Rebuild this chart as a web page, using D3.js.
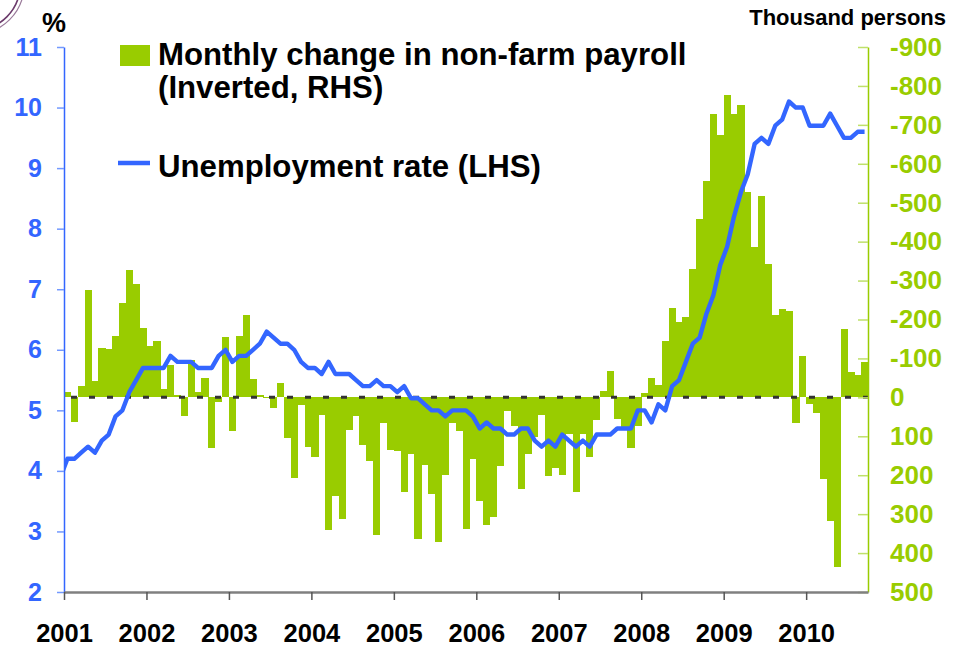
<!DOCTYPE html>
<html><head><meta charset="utf-8">
<script src="https://cdn.jsdelivr.net/npm/d3@7"></script>
<style>
body{margin:0;background:#fff}
svg{display:block}
text{font-family:"Liberation Sans",Arial,sans-serif;font-weight:bold}
</style>
</head><body>
<svg id="c" width="953" height="653"></svg>
<script>
// ---- data ----
const years = ["2001","2002","2003","2004","2005","2006","2007","2008","2009","2010"];
// Monthly change in non-farm payroll (thousand persons), Jan 2001 - Sep 2010
const payroll2001 = [-13, 63, -28, -277, -41, -128, -123, -157, -242, -326, -290, -177];
const payroll2002 = [-131, -146, -21, -82, -5, 48, -95, -13, -51, 130, 12, -154];
const payroll2003 = [87, -157, -211, -47, -5, 2, 27, -38, 104, 207, 20, 128];
const payroll2004 = [153, 46, 342, 253, 313, 84, 49, 122, 164, 354, 67, 135];
const payroll2005 = [138, 243, 146, 363, 174, 248, 372, 200, 67, 87, 337, 158];
const payroll2006 = [266, 328, 307, 176, 36, 74, 235, 146, 102, 45, 202, 181];
const payroll2007 = [200, 95, 243, 95, 153, 58, -17, -67, 56, 79, 130, 73];
const payroll2008 = [-11, -49, -32, -146, -229, -193, -206, -331, -457, -555, -727, -674];
const payroll2009 = [-776, -727, -752, -527, -385, -516, -342, -211, -226, -221, 66, -105];
const payroll2010 = [16, 40, 210, 318, 436, -175, -65, -57, -92];
// Unemployment rate (%), Dec 2000 lead-in then Jan 2001 - Sep 2010
const unempDec2000 = 3.9;
const unemp2001 = [4.2, 4.2, 4.3, 4.4, 4.3, 4.5, 4.6, 4.9, 5.0, 5.3, 5.5, 5.7];
const unemp2002 = [5.7, 5.7, 5.7, 5.9, 5.8, 5.8, 5.8, 5.7, 5.7, 5.7, 5.9, 6.0];
const unemp2003 = [5.8, 5.9, 5.9, 6.0, 6.1, 6.3, 6.2, 6.1, 6.1, 6.0, 5.8, 5.7];
const unemp2004 = [5.7, 5.6, 5.8, 5.6, 5.6, 5.6, 5.5, 5.4, 5.4, 5.5, 5.4, 5.4];
const unemp2005 = [5.3, 5.4, 5.2, 5.2, 5.1, 5.0, 5.0, 4.9, 5.0, 5.0, 5.0, 4.9];
const unemp2006 = [4.7, 4.8, 4.7, 4.7, 4.6, 4.6, 4.7, 4.7, 4.5, 4.4, 4.5, 4.4];
const unemp2007 = [4.6, 4.5, 4.4, 4.5, 4.4, 4.6, 4.6, 4.6, 4.7, 4.7, 4.7, 5.0];
const unemp2008 = [5.0, 4.8, 5.1, 5.0, 5.4, 5.5, 5.8, 6.1, 6.2, 6.6, 6.9, 7.4];
const unemp2009 = [7.7, 8.2, 8.6, 8.9, 9.4, 9.5, 9.4, 9.7, 9.8, 10.1, 10.0, 10.0];
const unemp2010 = [9.7, 9.7, 9.7, 9.9, 9.7, 9.5, 9.5, 9.6, 9.6];
const leftTicks = [2, 3, 4, 5, 6, 7, 8, 9, 10, 11];
const rightTicks = [-900, -800, -700, -600, -500, -400, -300, -200, -100, 0, 100, 200, 300, 400, 500];
const legendBar = ["Monthly change in non-farm payroll", "(Inverted, RHS)"];
const legendLine = "Unemployment rate (LHS)";

const payroll = [].concat(payroll2001, payroll2002, payroll2003, payroll2004, payroll2005,
  payroll2006, payroll2007, payroll2008, payroll2009, payroll2010);
const unemp = [].concat(unemp2001, unemp2002, unemp2003, unemp2004, unemp2005,
  unemp2006, unemp2007, unemp2008, unemp2009, unemp2010);
const nMonths = payroll.length;

// ---- styling ----
const GREEN = "#99CC00", BLUE = "#3366FF";
const FONT = '"Liberation Sans",Arial,sans-serif';
const svg = d3.select("#c");
const L = 64, R = 868, T = 47, B = 592;

const x = d3.scaleLinear().domain([0, nMonths]).range([L, R]);
const yL = d3.scaleLinear().domain([2, 11]).range([B, T]);
const yR = d3.scaleLinear().domain([500, -900]).range([B, T]);

// logo fragment at top-left
const logo = svg.append("g").attr("fill", "none").attr("stroke", "#6b3a6b");
logo.append("circle").attr("cx", -25).attr("cy", -15).attr("r", 45).attr("stroke-width", 1.6);
logo.append("circle").attr("cx", -25).attr("cy", -15).attr("r", 49).attr("stroke-width", 1.2).attr("stroke", "#9a7a9a");

svg.append("clipPath").attr("id", "plot").append("rect")
  .attr("x", L).attr("y", T - 10).attr("width", R - L).attr("height", B - T + 10);

// bars
svg.append("g").attr("shape-rendering", "crispEdges")
  .selectAll("rect").data(payroll).join("rect")
  .attr("x", (d, i) => x(i))
  .attr("width", (d, i) => x(i + 1) - x(i) + 0.3)
  .attr("y", d => Math.min(yR(d), yR(0)))
  .attr("height", d => Math.abs(yR(d) - yR(0)))
  .attr("fill", GREEN);

// zero reference (dashed)
svg.append("line")
  .attr("x1", L).attr("x2", R).attr("y1", yR(0)).attr("y2", yR(0))
  .attr("stroke", "#333").attr("stroke-width", 3)
  .attr("stroke-dasharray", "6,12").attr("stroke-dashoffset", 11);

// unemployment line
const linePts = [{i: -1, v: unempDec2000}].concat(unemp.map((v, i) => ({i, v})));
svg.append("path")
  .attr("clip-path", "url(#plot)")
  .attr("d", d3.line().x(d => x(d.i + 0.5)).y(d => yL(d.v))(linePts))
  .attr("fill", "none").attr("stroke", BLUE).attr("stroke-width", 4.4)
  .attr("stroke-linejoin", "round");

// left axis
const gl = svg.append("g").attr("transform", `translate(${L},0)`)
  .call(d3.axisLeft(yL).tickValues(leftTicks).tickSizeInner(7).tickSizeOuter(0).tickPadding(15).tickFormat(d => String(d)));
gl.select(".domain").attr("stroke", BLUE).attr("stroke-width", 1.5);
gl.selectAll(".tick line").attr("stroke", "#7399ff").attr("stroke-width", 1.5);
gl.selectAll(".tick text").attr("fill", BLUE).attr("font-size", 25).attr("font-weight", "bold")
  .attr("font-family", FONT);

// right axis
const gr = svg.append("g").attr("transform", `translate(${R},0)`)
  .call(d3.axisRight(yR).tickValues(rightTicks).tickSizeInner(-10).tickSizeOuter(0).tickPadding(22).tickFormat(d => String(d)));
gr.select(".domain").attr("stroke", GREEN).attr("stroke-width", 1.5);
gr.selectAll(".tick line").attr("stroke", "#bfe06a").attr("stroke-width", 1.5);
gr.selectAll(".tick text").attr("fill", GREEN).attr("font-size", 26).attr("font-weight", "bold")
  .attr("font-family", FONT);

// bottom axis
const yearIdx = years.map((y, k) => k * 12);
const gb = svg.append("g").attr("transform", `translate(0,${B})`)
  .call(d3.axisBottom(x).tickValues(yearIdx).tickSizeInner(8).tickSizeOuter(0).tickPadding(24).tickFormat((d, k) => years[k]));
gb.select(".domain").attr("stroke", "#808080").attr("stroke-width", 2.5);
gb.selectAll(".tick line").attr("stroke", "#555").attr("stroke-width", 1.5);
gb.selectAll(".tick text").attr("fill", "#000").attr("font-size", 25.5).attr("font-weight", "bold")
  .attr("font-family", FONT);

// axis titles
svg.append("text").attr("x", 42).attr("y", 32).attr("font-size", 27).text("%");
svg.append("text").attr("x", 946).attr("y", 25).attr("text-anchor", "end").attr("font-size", 22).text("Thousand persons");

// legend
svg.append("rect").attr("x", 120).attr("y", 45).attr("width", 30).attr("height", 21).attr("fill", GREEN);
svg.append("text").attr("x", 158).attr("y", 65).attr("font-size", 31.2).text(legendBar[0]);
svg.append("text").attr("x", 158).attr("y", 98).attr("font-size", 31.2).text(legendBar[1]);
svg.append("line").attr("x1", 118).attr("x2", 150).attr("y1", 163).attr("y2", 163)
  .attr("stroke", BLUE).attr("stroke-width", 4.5);
svg.append("text").attr("x", 158).attr("y", 177).attr("font-size", 31.2).text(legendLine);
</script>
</body></html>
